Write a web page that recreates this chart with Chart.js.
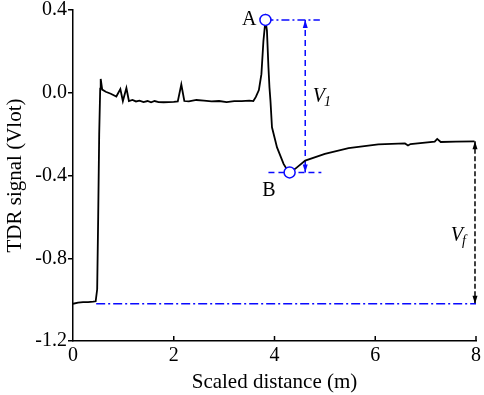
<!DOCTYPE html>
<html>
<head>
<meta charset="utf-8">
<script src="https://cdn.jsdelivr.net/npm/chart.js@4.4.1/dist/chart.umd.min.js"></script>
<style>
  html, body { margin: 0; padding: 0; background: #fff; }
  #wrap { width: 484px; height: 395px; position: relative; }
</style>
</head>
<body>
<div id="wrap"><canvas id="tdr"></canvas></div>
<script>
const signalX = [0.00, 0.10, 0.20, 0.30, 0.40, 0.45, 0.48, 0.50, 0.52, 0.54, 0.55, 0.58, 0.65, 0.75, 0.86, 0.94, 0.99, 1.06, 1.11,
  1.18, 1.25, 1.32, 1.40, 1.48, 1.55, 1.62, 1.70, 1.80, 1.90, 2.00, 2.08, 2.15, 2.21, 2.30, 2.45, 2.60, 2.75, 2.90, 3.05,
  3.20, 3.35, 3.50, 3.58, 3.63, 3.69, 3.74, 3.78, 3.82, 3.85, 3.88, 3.90, 3.92, 3.95, 4.05, 4.18, 4.25, 4.30, 4.41, 4.61,
  5.00, 5.47, 6.06, 6.59, 6.65, 6.70, 7.18, 7.23, 7.30, 7.60, 7.97]
const signalY = [-1.020, -1.015, -1.012, -1.012, -1.010, -1.008, -0.950, -0.600, -0.200, 0.020, 0.067, 0.015, 0.005, -0.005, -0.018, 0.018, -0.040, 0.023, -0.040,
  -0.035, -0.042, -0.038, -0.045, -0.040, -0.046, -0.040, -0.045, -0.046, -0.045, -0.044, -0.042, 0.040, -0.040, -0.042, -0.035, -0.038, -0.042, -0.040, -0.045,
  -0.040, -0.040, -0.038, -0.040, -0.020, 0.013, 0.090, 0.250, 0.350, 0.300, 0.122, 0.026, -0.039, -0.167, -0.264, -0.344, -0.372, -0.385, -0.368, -0.328,
  -0.295, -0.268, -0.250, -0.245, -0.255, -0.248, -0.236, -0.223, -0.238, -0.236, -0.235]

const xTicks = [0, 2, 4, 6, 8]
const yTicks = [0.4, 0.0, -0.4, -0.8, -1.2]

// marked points and reference levels
const pointA = { x: 3.82, y: 0.352 }
const pointB = { x: 4.30, y: -0.385 }
const v1X = 4.61
const lineAEnd = 4.90
const lineBStart = 3.88
const lineBEnd = 4.93
const finalLevel = -0.235
const baseLevel = -1.02
const baseStart = 0.46
const vfX = 7.98

const blue = '#0a0aff'
const serif = "'Liberation Serif', 'Times New Roman', serif"

const signal = signalX.map((x, i) => ({ x: x, y: signalY[i] }))

function arrow(ctx, x, y, up, color) {
  ctx.save()
  ctx.fillStyle = color
  ctx.beginPath()
  ctx.moveTo(x, y)
  ctx.lineTo(x - 2.5, y + (up ? 8 : -8))
  ctx.lineTo(x + 2.5, y + (up ? 8 : -8))
  ctx.closePath()
  ctx.fill()
  ctx.restore()
}

const annotations = {
  id: 'annotations',
  afterDatasetsDraw(chart) {
    const ctx = chart.ctx
    const xs = chart.scales.x
    const ys = chart.scales.y
    // inward x ticks
    ctx.save()
    ctx.strokeStyle = '#000'
    ctx.lineWidth = 1.5
    xTicks.slice(1).forEach(v => {
      const px = xs.getPixelForValue(v)
      ctx.beginPath()
      ctx.moveTo(px, ys.bottom)
      ctx.lineTo(px, ys.bottom - 5)
      ctx.stroke()
    })
    ctx.restore()

    arrow(ctx, xs.getPixelForValue(v1X), ys.getPixelForValue(pointA.y), true, blue)
    arrow(ctx, xs.getPixelForValue(v1X), ys.getPixelForValue(pointB.y), false, blue)
    arrow(ctx, xs.getPixelForValue(vfX), ys.getPixelForValue(finalLevel), true, '#000')
    arrow(ctx, xs.getPixelForValue(vfX), ys.getPixelForValue(baseLevel), false, '#000')

    ctx.save()
    ctx.fillStyle = '#000'
    ctx.font = '20px ' + serif
    ctx.textBaseline = 'middle'
    ctx.textAlign = 'right'
    ctx.fillText('A', xs.getPixelForValue(3.64), ys.getPixelForValue(pointA.y))
    ctx.textAlign = 'center'
    ctx.fillText('B', xs.getPixelForValue(3.89), ys.getPixelForValue(-0.472))
    ctx.textAlign = 'left'
    ctx.font = 'italic 20px ' + serif
    let px = xs.getPixelForValue(4.76), py = ys.getPixelForValue(-0.02)
    ctx.fillText('V', px, py)
    let w = ctx.measureText('V').width
    ctx.font = 'italic 14px ' + serif
    ctx.fillText('1', px + w - 1, py + 5)
    ctx.font = 'italic 20px ' + serif
    px = xs.getPixelForValue(7.50); py = ys.getPixelForValue(-0.69)
    ctx.fillText('V', px, py)
    w = ctx.measureText('V').width
    ctx.font = 'italic 14px ' + serif
    ctx.fillText('f', px + w - 1, py + 6)
    ctx.restore()
  }
}

new Chart(document.getElementById('tdr'), {
  type: 'line',
  data: {
    datasets: [{
      label: 'Points',
      data: [pointA, pointB],
      showLine: false,
      pointRadius: 5.5,
      pointBorderWidth: 1.5,
      pointBorderColor: blue,
      pointBackgroundColor: '#fff',
      order: 0
    },
    {
      label: 'TDR signal',
      data: signal,
      borderColor: '#000',
      borderWidth: 1.8,
      pointRadius: 0,
      tension: 0,
      order: 1
    },
    {
      label: 'A level',
      data: [pointA, { x: lineAEnd, y: pointA.y }],
      borderColor: blue,
      borderWidth: 1.5,
      borderDash: [8, 3, 2, 3],
      pointRadius: 0,
      order: 2
    },
    {
      label: 'B level',
      data: [{ x: lineBStart, y: pointB.y }, { x: lineBEnd, y: pointB.y }],
      borderColor: blue,
      borderWidth: 1.5,
      borderDash: [6, 4],
      pointRadius: 0,
      order: 2
    },
    {
      label: 'V1',
      data: [{ x: v1X, y: pointA.y }, { x: v1X, y: pointB.y }],
      borderColor: blue,
      borderWidth: 1.5,
      borderDash: [6, 4],
      pointRadius: 0,
      order: 2
    },
    {
      label: 'Base level',
      data: [{ x: baseStart, y: baseLevel }, { x: 8, y: baseLevel }],
      borderColor: blue,
      borderWidth: 1.5,
      borderDash: [9, 3, 2, 3],
      pointRadius: 0,
      order: 2
    },
    {
      label: 'Vf',
      data: [{ x: vfX, y: finalLevel }, { x: vfX, y: baseLevel }],
      borderColor: '#000',
      borderWidth: 1.5,
      borderDash: [5, 2.5],
      pointRadius: 0,
      clip: false,
      order: 2
    }]
  },
  options: {
    responsive: true,
    maintainAspectRatio: false,
    animation: false,
    layout: { padding: { top: 0, right: 0, left: 0, bottom: 0 } },
    plugins: { legend: { display: false }, tooltip: { enabled: false } },
    scales: {
      x: {
        type: 'linear',
        min: 0,
        max: 8,
        afterFit: s => { s.height = 54 },
        afterBuildTicks: s => { s.ticks = xTicks.map(v => ({ value: v })) },
        ticks: { color: '#000', font: { family: serif, size: 20 }, padding: 3, maxRotation: 0 },
        grid: { display: true, drawOnChartArea: false, drawTicks: false },
        border: { display: true, color: '#000', width: 1.5 },
        title: { display: true, text: 'Scaled distance (m)', color: '#000', font: { family: serif, size: 21 }, padding: { top: 0, bottom: 0 } }
      },
      y: {
        type: 'linear',
        min: -1.2,
        max: 0.4,
        afterFit: s => { s.width = 73 },
        afterBuildTicks: s => { s.ticks = yTicks.map(v => ({ value: v })) },
        ticks: { color: '#000', font: { family: serif, size: 20, lineHeight: 0.9 }, padding: 1, callback: v => v.toFixed(1) },
        grid: { display: true, drawOnChartArea: false, drawTicks: true, tickLength: 5, color: '#000', lineWidth: 1.5 },
        border: { display: true, color: '#000', width: 1.5 },
        title: { display: true, text: 'TDR signal (Vlot)', color: '#000', font: { family: serif, size: 21 }, padding: { top: 3, bottom: 0 } }
      }
    }
  },
  plugins: [annotations]
})
</script>
</body>
</html>
